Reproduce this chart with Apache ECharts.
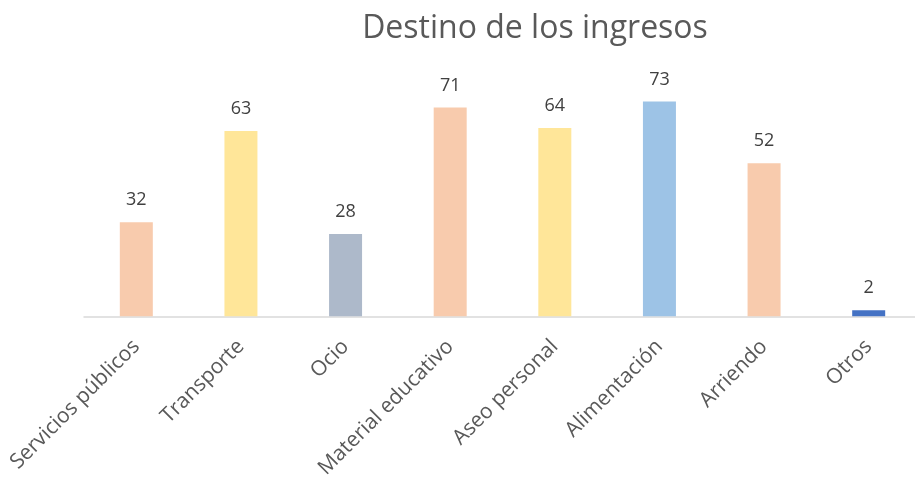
<!DOCTYPE html>
<html>
<head>
    <meta charset="utf-8">
    <title>Destino de los ingresos</title>
    <style>
        * { margin: 0; padding: 0; }
        html, body { width: 100%; height: 100%; background: #fff; overflow: hidden; }
    </style>
</head>
<body>
    <!-- el eje sigue un poco más allá del borde derecho, como en el original -->
    <div id="main" style="width: 921px; height: 481px;"></div>
    <script src="https://cdn.jsdelivr.net/npm/echarts@6/dist/echarts.min.js"></script>
    <script>
        // datos
        const categorias = ['Servicios públicos', 'Transporte', 'Ocio', 'Material educativo',
            'Aseo personal', 'Alimentación', 'Arriendo', 'Otros'];
        const valores = [32, 63, 28, 71, 64, 73, 52, 2];
        const colores = ['#F8CBAD', '#FFE699', '#ADB9CA', '#F8CBAD', '#FFE699', '#9DC3E6', '#F8CBAD', '#4472C4'];

        const FONT = 'Open Sans, Lato, sans-serif';
        const chart = echarts.init(document.getElementById('main'));

        chart.setOption({
            animation: false,
            title: {
                text: 'Destino de los ingresos',
                left: 530,
                textAlign: 'center',
                top: 8,
                textStyle: { fontFamily: FONT, fontSize: 32, fontWeight: 'normal', color: '#595959' }
            },
            grid: { left: 84, right: 0, top: 81, bottom: 163 },
            xAxis: {
                type: 'category',
                data: categorias,
                axisLine: { lineStyle: { color: '#D9D9D9', width: 1.5 } },
                axisTick: { show: false },
                axisLabel: {
                    rotate: 45,
                    interval: 0,
                    margin: 27,
                    fontFamily: FONT,
                    fontSize: 21,
                    color: '#595959'
                }
            },
            yAxis: {
                type: 'value',
                min: 0,
                max: 80,
                show: false,
                splitLine: { show: false }
            },
            series: [{
                type: 'bar',
                barWidth: 33,
                data: valores.map((v, i) => ({ value: v, itemStyle: { color: colores[i] } })),
                label: {
                    show: true,
                    position: 'top',
                    distance: 13,
                    fontFamily: FONT,
                    fontSize: 18,
                    color: '#404040'
                }
            }]
        });
    </script>
</body>
</html>
